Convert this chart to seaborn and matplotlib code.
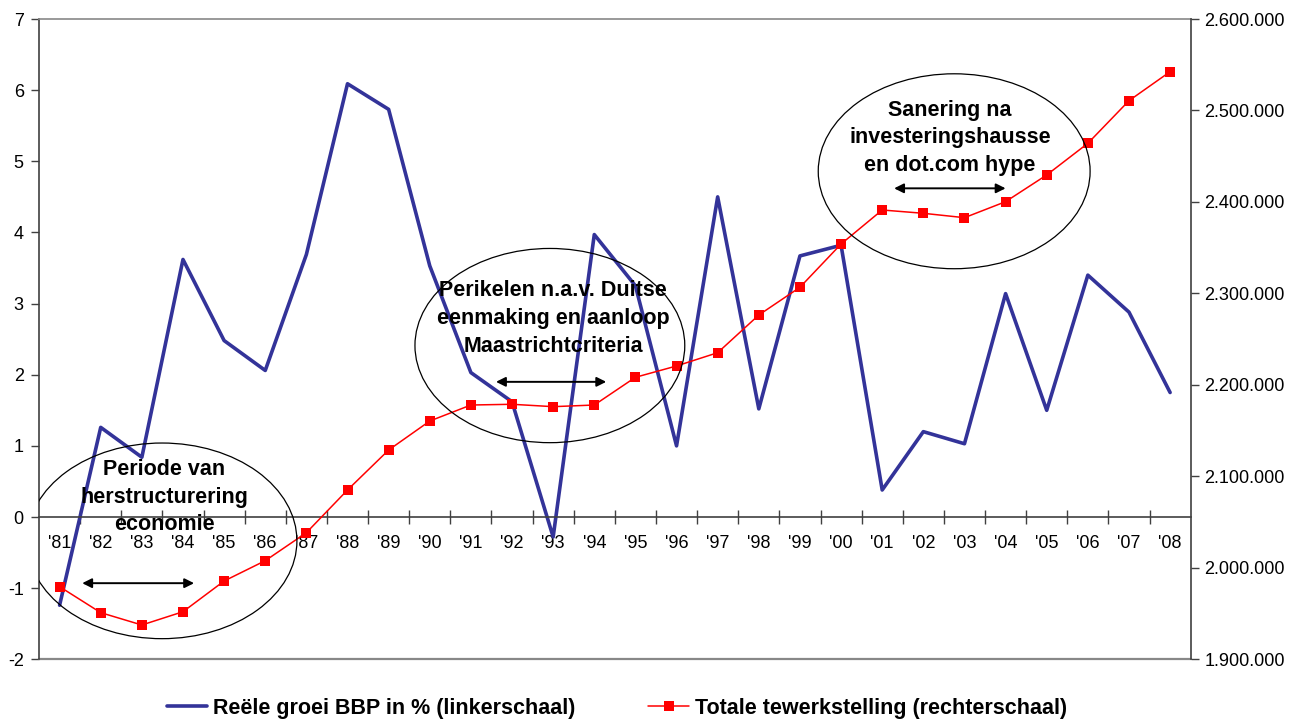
import matplotlib
matplotlib.use("Agg")
import matplotlib.pyplot as plt
import seaborn as sns
import pandas as pd
from matplotlib.patches import Ellipse

# data
years = ["'81", "'82", "'83", "'84", "'85", "'86", "'87", "'88", "'89", "'90",
         "'91", "'92", "'93", "'94", "'95", "'96", "'97", "'98", "'99", "'00",
         "'01", "'02", "'03", "'04", "'05", "'06", "'07", "'08"]
gdp_growth = [-1.24, 1.26, 0.84, 3.62, 2.48, 2.06, 3.69, 6.09, 5.73, 3.53,
              2.03, 1.62, -0.28, 3.97, 3.25, 1.00, 4.50, 1.52, 3.67, 3.82,
              0.38, 1.20, 1.03, 3.14, 1.50, 3.40, 2.88, 1.75]
employment = [1979400, 1951000, 1937500, 1952000, 1985600, 2007800, 2038400,
              2085100, 2128800, 2160500, 2178000, 2178800, 2176200, 2178000,
              2208300, 2220700, 2235200, 2276400, 2306700, 2354000, 2391200,
              2387600, 2382800, 2400300, 2429500, 2464100, 2510700, 2542400]
left_ticks = [-2, -1, 0, 1, 2, 3, 4, 5, 6, 7]
right_ticks = [1900000, 2000000, 2100000, 2200000, 2300000, 2400000, 2500000, 2600000]
right_labels = ["1.900.000", "2.000.000", "2.100.000", "2.200.000",
                "2.300.000", "2.400.000", "2.500.000", "2.600.000"]

label_gdp = "Reële groei BBP in % (linkerschaal)"
label_emp = "Totale tewerkstelling (rechterschaal)"

# annotations: text, text pos, ellipse centre/size, arrow start/end (x in year index, y on left scale)
notes = [
    ("Periode van\nherstructurering\neconomie", (2.54, 0.28), (2.49, -0.335, 6.56, 2.75), (0.55, 3.27, -0.93)),
    ("Perikelen n.a.v. Duitse\neenmaking en aanloop\nMaastrichtcriteria", (12.0, 2.79), (11.92, 2.41, 6.56, 2.73), (10.61, 13.29, 1.90)),
    ("Sanering na\ninvesteringshausse\nen dot.com hype", (21.65, 5.33), (21.75, 4.86, 6.61, 2.74), (20.29, 23.0, 4.62)),
]

df = pd.DataFrame({"pos": range(len(years)), "gdp": gdp_growth, "emp": employment})

sns.set_style("white")
plt.rcParams["font.family"] = ["Liberation Sans", "DejaVu Sans"]
plt.rcParams["axes.unicode_minus"] = False
plt.rcParams["text.color"] = "black"
plt.rcParams["xtick.labelcolor"] = "black"
plt.rcParams["ytick.labelcolor"] = "black"

fig = plt.figure(figsize=(13.01, 7.2), dpi=100)
ax = fig.add_axes([0.030, 0.0843, 0.8852, 0.8893])
ax2 = ax.twinx()

sns.lineplot(data=df, x="pos", y="gdp", ax=ax, color="#333399", linewidth=2.6,
             label=label_gdp, legend=False)
sns.lineplot(data=df, x="pos", y="emp", ax=ax2, color="#ff0000", linewidth=1.1,
             marker="s", markersize=7.5, markeredgewidth=0, label=label_emp, legend=False)

ax.set_xlim(-0.5, len(years) - 0.5)
ax.set_ylim(-2, 7)
ax2.set_ylim(1900000, 2600000)

# left axis
ax.set_yticks(left_ticks)
ax.set_yticklabels([str(t) for t in left_ticks])
ax.tick_params(axis="y", direction="out", length=6, width=1, color="#404040",
               labelsize=13, pad=5, left=True)
# category axis crosses at 0
ax.spines["bottom"].set_position(("data", 0))
ax.spines["bottom"].set_color("#404040")
ax.spines["left"].set_color("#404040")
ax.spines["top"].set_color("#888888")
ax.spines["right"].set_visible(False)
for s in ["left", "top", "bottom"]:
    ax.spines[s].set_linewidth(1.2)
ax.axhline(-2, color="#888888", linewidth=1.6, clip_on=False)
ax.set_xticks([i - 0.5 for i in range(1, len(years))])
ax.set_xticklabels([])
ax.set_xticks(range(len(years)), minor=True)
ax.set_xticklabels(years, minor=True)
ax.tick_params(axis="x", which="major", direction="inout", length=10, width=1,
               color="#404040", bottom=True)
ax.tick_params(axis="x", which="minor", length=0, labelsize=13, pad=13)
ax.set_xlabel("")
ax.set_ylabel("")

# right axis
ax2.set_yticks(right_ticks)
ax2.set_yticklabels(right_labels)
ax2.tick_params(axis="y", direction="out", length=6, width=1, color="#404040",
                labelsize=13, pad=4, right=True)
for s in ["left", "top", "bottom"]:
    ax2.spines[s].set_visible(False)
ax2.spines["right"].set_color("#404040")
ax2.spines["right"].set_linewidth(1.2)
ax2.set_ylabel("")
ax2.grid(False)
ax.grid(False)

# ellipses, arrows and texts on top of the lines
for text, (tx, ty), (ex, ey, ew, eh), (a0, a1, ay) in notes:
    ax2.add_patch(Ellipse((ex, ey), ew, eh, transform=ax.transData, fill=False,
                          edgecolor="black", linewidth=0.9, zorder=5))
    ax2.annotate("", xy=(a1, ay), xytext=(a0, ay), xycoords=ax.transData,
                 textcoords=ax.transData,
                 arrowprops=dict(arrowstyle="<|-|>", color="black", lw=1.4,
                                 mutation_scale=14, shrinkA=0, shrinkB=0), zorder=6)
    ax2.text(tx, ty, text, transform=ax.transData, ha="center", va="center",
             fontsize=15.5, fontweight="bold", linespacing=1.42, zorder=7)

h1, l1 = ax.get_legend_handles_labels()
h2, l2 = ax2.get_legend_handles_labels()
fig.legend(h1 + h2, l1 + l2, loc="center", bbox_to_anchor=(0.474, 0.016),
           ncol=2, frameon=False, prop={"weight": "bold", "size": 15.5},
           handlelength=1.9, columnspacing=3.4, handletextpad=0.25)

fig.savefig("out.png", dpi=100)
